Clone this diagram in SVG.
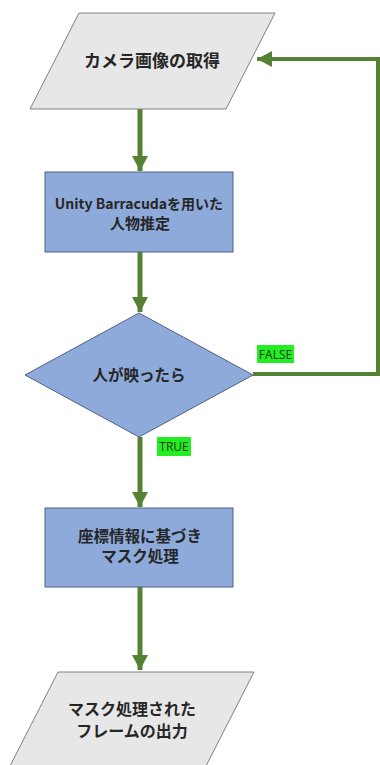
<svg xmlns="http://www.w3.org/2000/svg" width="380" height="765" viewBox="0 0 380 765">
<style>
.io{fill:#e7e7e7;stroke:#808080;stroke-width:1}
.proc{fill:#8eaadb;stroke:#4f6285;stroke-width:1}
.t{font-family:"Noto Sans CJK JP","Noto Sans",sans-serif;font-weight:bold;fill:#262626;text-anchor:middle}
.lbl{font-family:"Open Sans","Noto Sans",sans-serif;font-size:12px;fill:#1e3a10;text-anchor:middle}
.c{fill:none;stroke:#548235;stroke-width:5}
.c2{fill:none;stroke:#548235;stroke-width:4}
</style>
<defs>
<marker id="ah" markerUnits="userSpaceOnUse" markerWidth="16" markerHeight="16" refX="15" refY="8" orient="auto">
<path d="M0,0 L15,8 L0,16 z" fill="#548235"/>
</marker>
</defs>
<rect width="380" height="765" fill="#ffffff"/>
<g id="connectors">
<line class="c" x1="140" y1="109" x2="140" y2="171" marker-end="url(#ah)"/>
<line class="c" x1="140" y1="252" x2="140" y2="312" marker-end="url(#ah)"/>
<line class="c" x1="140" y1="437" x2="140" y2="507" marker-end="url(#ah)"/>
<line class="c" x1="140" y1="587" x2="140" y2="670" marker-end="url(#ah)"/>
<polyline class="c2" points="253,374 378,374 378,59 257,59" marker-end="url(#ah)"/>
</g>
<g id="n1">
<polygon class="io" points="79,13 275,13 226,109 30,109"/>
<text class="t" x="152" y="67" font-size="17">カメラ画像の取得</text>
</g>
<g id="n2">
<rect class="proc" x="45" y="172" width="188" height="80"/>
<text class="t" x="139" y="209" font-size="14">Unity Barracudaを用いた</text>
<text class="t" x="140" y="228.5" font-size="15">人物推定</text>
</g>
<g id="n3">
<polygon class="proc" points="139,313 253,375 139,437 25,375"/>
<text class="t" x="139" y="381" font-size="15.5">人が映ったら</text>
</g>
<g id="n4">
<rect class="proc" x="45" y="508" width="188" height="79"/>
<text class="t" x="140" y="542" font-size="15.5">座標情報に基づき</text>
<text class="t" x="140" y="562" font-size="15.5">マスク処理</text>
</g>
<g id="n5">
<polygon class="io" points="58,672 254,672 205,768 9,768"/>
<text class="t" x="132" y="714.5" font-size="16">マスク処理された</text>
<text class="t" x="132" y="736.5" font-size="16">フレームの出力</text>
</g>
<g id="label-false">
<rect x="257" y="345" width="37" height="18" fill="#22ee22"/>
<text class="lbl" x="275.5" y="358.5">FALSE</text>
</g>
<g id="label-true">
<rect x="157" y="437" width="34" height="19" fill="#22ee22"/>
<text class="lbl" x="174" y="451">TRUE</text>
</g>
</svg>
